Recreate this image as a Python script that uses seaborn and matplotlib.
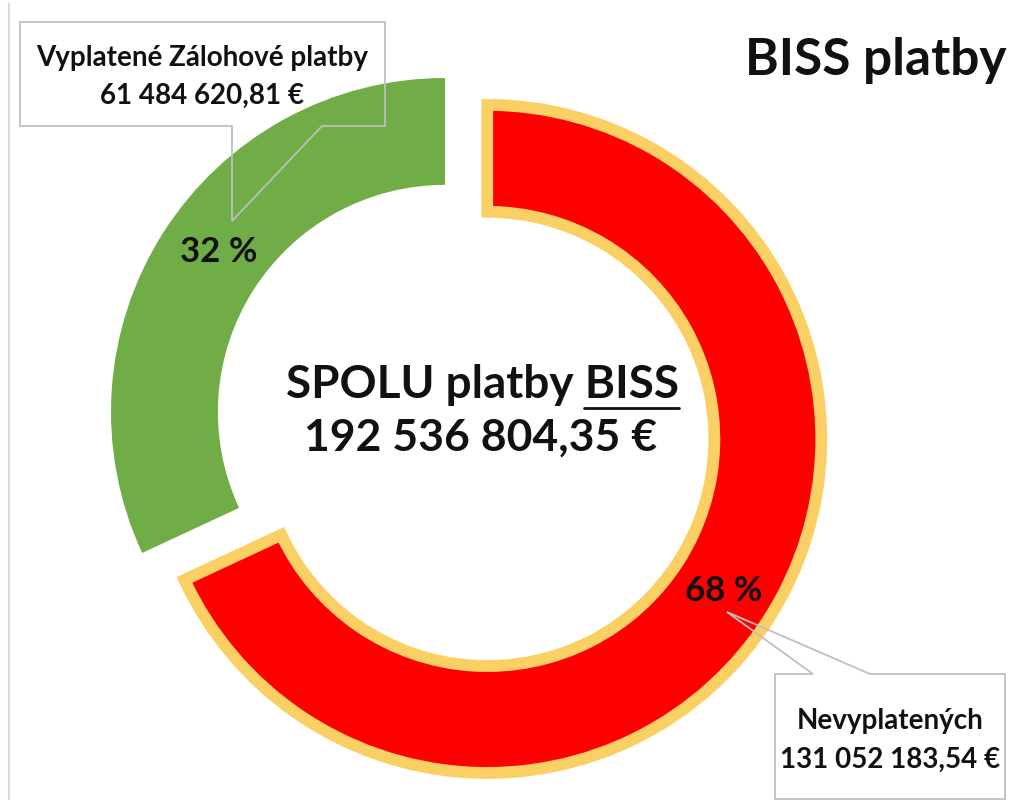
import numpy as np
import matplotlib.pyplot as plt
import seaborn as sns
from matplotlib.patches import Polygon

# data
labels = ['Nevyplatených', 'Vyplatené Zálohové platby']
amounts = [131052183.54, 61484620.81]
amount_text = ['131 052 183,54 €', '61 484 620,81 €']
total_text = '192 536 804,35 €'
colors = ['#FF0000', '#70AD47']

sns.set_theme(style='white')
plt.rcParams['font.family'] = ['Lato', 'DejaVu Sans']

W, H = 1013, 804
fig = plt.figure(figsize=(W / 100, H / 100), dpi=100)
ax = fig.add_axes([0, 0, 1, 1])

# pixel -> data helper (ring radius 1 == 334 px, centre of green ring at 445,413)
scale = 334.0
cx, cy = 445.0, 413.0


def px(x, y):
    return (x - cx) / scale, (cy - y) / scale


wedges, _, autotexts = ax.pie(
    amounts, colors=colors, startangle=90, counterclock=False,
    explode=[0.15, 0], radius=1.0,
    wedgeprops=dict(width=0.32, linewidth=0),
    autopct=lambda p: f'{p:.0f} %', pctdistance=0.84,
    textprops=dict(fontsize=25, fontweight='bold', color='#111111'),
)
wedges[0].set_edgecolor('#FAD064')
wedges[0].set_linewidth(8.5)
# excel nudged the green label a bit up/right
autotexts[1].set_position(px(219, 252))

ax.set_xlim(px(0, 0)[0], px(W, 0)[0])
ax.set_ylim(px(0, H)[1], px(0, 0)[1])
ax.set_aspect('auto')
ax.axis('off')

# thin frame line at the left
ax.plot(*zip(px(9, 5), px(9, 800)), color='#D9D9D9', lw=1.5)

dark = '#111111'
# title
ax.text(*px(876, 75), 'BISS platby', ha='center', va='baseline',
        fontsize=37, fontweight='bold', color=dark)

# centre text
t1 = ax.text(*px(482, 398), 'SPOLU platby BISS', ha='center', va='baseline',
             fontsize=33, fontweight='bold', color=dark)
ax.text(*px(480, 451), total_text, ha='center', va='baseline',
        fontsize=32, fontweight='bold', color=dark)

r = fig.canvas.get_renderer()
bb = t1.get_window_extent(r)
tmp = ax.text(0, 0, 'BISS', fontsize=33, fontweight='bold')
wb = tmp.get_window_extent(r).width
tmp.remove()
x1 = bb.x1
x0 = x1 - wb
ax.plot(*zip(px(x0, 409), px(x1, 409)), color=dark, lw=2)

# callouts
box1 = [(20, 23), (385, 23), (385, 127), (322, 127), (232, 222), (232, 127), (20, 127)]
box2 = [(775, 675), (813, 675), (727, 613), (870, 675), (1005, 675), (1005, 800), (775, 800)]
for pts in (box1, box2):
    ax.add_patch(Polygon([px(*p) for p in pts], closed=True, facecolor='none',
                         edgecolor='#BFBFBF', lw=1.3))

ax.text(*px(202, 66), labels[1], ha='center', va='baseline',
        fontsize=20, fontweight='bold', color=dark)
ax.text(*px(202, 104), amount_text[1], ha='center', va='baseline',
        fontsize=20, fontweight='bold', color=dark)
ax.text(*px(890, 729), labels[0], ha='center', va='baseline',
        fontsize=20, fontweight='bold', color=dark)
ax.text(*px(890, 768), amount_text[0], ha='center', va='baseline',
        fontsize=20, fontweight='bold', color=dark)

fig.savefig('out.png', dpi=100, facecolor='white')
